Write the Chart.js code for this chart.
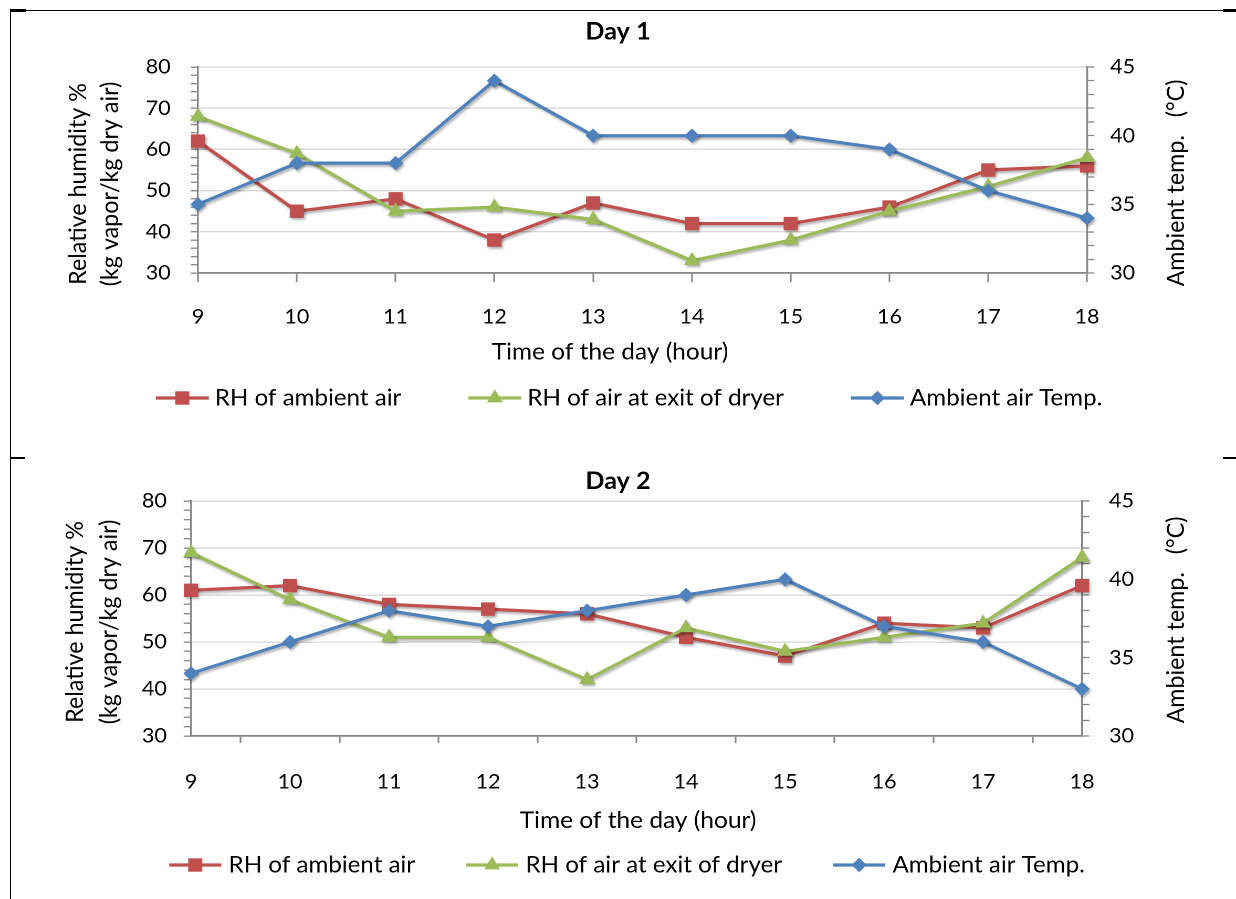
<!DOCTYPE html>
<html><head><meta charset="utf-8">
<script src="https://cdn.jsdelivr.net/npm/chart.js@4.4.1/dist/chart.umd.min.js"></script>
<style>
html,body{margin:0;padding:0;background:#fff;width:1236px;height:899px;overflow:hidden;position:relative;}
canvas{position:absolute;left:0;}
.fr{position:absolute;background:#000;}
</style></head><body>
<canvas id="c1" width="1177" height="458" style="top:0px;width:1236px;height:458px;"></canvas>
<canvas id="c2" width="1177" height="441" style="top:458px;width:1236px;height:441px;"></canvas>
<div class="fr" style="left:9.5px;top:9.5px;width:1226.5px;height:1.5px;"></div>
<div class="fr" style="left:9.5px;top:9px;width:16px;height:3px;"></div>
<div class="fr" style="left:1223px;top:9px;width:13px;height:3px;"></div>
<div class="fr" style="left:9.5px;top:9.5px;width:1.5px;height:890px;"></div>
<div class="fr" style="left:9.5px;top:457px;width:15px;height:2px;"></div>
<div class="fr" style="left:1223px;top:457px;width:13px;height:2px;"></div>
<script>
// ---------- data ----------
const hours = ['9','10','11','12','13','14','15','16','17','18'];
const seriesNames = ['RH of ambient air', 'RH of air at exit of dryer', 'Ambient air Temp.'];
const day1RhAmbient = [62, 45, 48, 38, 47, 42, 42, 46, 55, 56];
const day1RhExit    = [68, 59, 45, 46, 43, 33, 38, 45, 51, 58];
const day1Temp      = [35, 38, 38, 44, 40, 40, 40, 39, 36, 34];
const day2RhAmbient = [61, 62, 58, 57, 56, 51, 47, 54, 53, 62];
const day2RhExit    = [69, 59, 51, 51, 42, 53, 48, 51, 54, 68];
const day2Temp      = [34, 36, 38, 37, 38, 39, 40, 37, 36, 33];
const rhTickLabels   = [30, 40, 50, 60, 70, 80];
const tempTickLabels = [30, 35, 40, 45];
const xTitle = 'Time of the day (hour)';
const yTitle = ['Relative humidity %', '(kg vapor/kg dry air)'];
const y1Title = 'Ambient temp.   (\u00B0C)';

// ---------- styles ----------
const AXIS = '#868686', GRID = '#d9d9d9';
const COLORS = ['#C0504D', '#9BBB59', '#4F81BD'];
const STYLES = ['rect', 'triangle', 'rectRot'];
const RADII = [9.5, 8.8, 7.2];
const TICK_SIZE = 20.5, TEXT_SIZE = 23.3, LEGEND_SIZE = 23;
Chart.defaults.font.family = 'Lato, "Open Sans", sans-serif';
Chart.defaults.color = '#000';

function drawMarker(ctx, style, x, y, r) {
  ctx.beginPath();
  if (style === 'rect') {
    const s = Math.SQRT1_2 * r;
    ctx.rect(x - s, y - s, 2 * s, 2 * s);
  } else if (style === 'triangle') {
    ctx.moveTo(x, y - r);
    ctx.lineTo(x + r * Math.sqrt(3) / 2, y + r / 2);
    ctx.lineTo(x - r * Math.sqrt(3) / 2, y + r / 2);
    ctx.closePath();
  } else {
    ctx.moveTo(x - r, y); ctx.lineTo(x, y - r); ctx.lineTo(x + r, y); ctx.lineTo(x, y + r);
    ctx.closePath();
  }
  ctx.fill();
}

const shadowPlugin = {
  id: 'shadow',
  beforeDatasetsDraw(chart) {
    const c = chart.ctx; c.save();
    c.shadowColor = 'rgba(0,0,0,0.33)'; c.shadowBlur = 5; c.shadowOffsetX = 3; c.shadowOffsetY = 4;
  },
  afterDatasetsDraw(chart) { chart.ctx.restore(); }
};

const textPlugin = {
  id: 'extraText',
  afterDraw(chart, args, o) {
    const ctx = chart.ctx, ca = chart.chartArea;
    const cy = (ca.top + ca.bottom) / 2;
    ctx.save();
    ctx.fillStyle = '#000';
    ctx.textAlign = 'center'; ctx.textBaseline = 'middle';
    ctx.font = TEXT_SIZE + 'px Lato';
    ctx.fillText(xTitle, o.xTitleX, o.xTitleY);
    yTitle.forEach((t, i) => {
      ctx.save(); ctx.translate(o.yTitleX[i], cy + o.yTitleDy); ctx.rotate(-Math.PI / 2);
      ctx.fillText(t, 0, 0); ctx.restore();
    });
    ctx.save(); ctx.translate(o.y1TitleX, cy + o.y1TitleDy); ctx.rotate(-Math.PI / 2);
    ctx.fillText(y1Title, 0, 0); ctx.restore();
    // legend
    ctx.font = LEGEND_SIZE + 'px Lato';
    ctx.textAlign = 'left';
    const ds = chart.data.datasets;
    const widths = ds.map(d => ctx.measureText(d.label).width);
    let total = 0;
    widths.forEach(w => total += o.symW + o.symGap + w);
    total += o.legendGap * (ds.length - 1);
    let x = o.legendCx - total / 2;
    const y = o.legendY;
    ds.forEach((d, i) => {
      ctx.strokeStyle = d.borderColor; ctx.lineWidth = 3.2;
      ctx.beginPath(); ctx.moveTo(x, y); ctx.lineTo(x + o.symW, y); ctx.stroke();
      ctx.fillStyle = d.backgroundColor;
      drawMarker(ctx, d.pointStyle, x + o.symW / 2, y, d.pointRadius);
      ctx.fillStyle = '#000';
      ctx.fillText(d.label, x + o.symW + o.symGap, y);
      x += o.symW + o.symGap + widths[i] + o.legendGap;
    });
    ctx.restore();
  }
};

function makeChart(id, title, rhA, rhE, temp, L) {
  const datasets = [rhA, rhE, temp].map((vals, i) => ({
    label: seriesNames[i],
    data: vals,
    yAxisID: i === 2 ? 'y1' : 'y',
    borderColor: COLORS[i], backgroundColor: COLORS[i],
    pointBackgroundColor: COLORS[i], pointBorderColor: COLORS[i], pointBorderWidth: 0,
    pointStyle: STYLES[i], pointRadius: RADII[i], pointHoverRadius: RADII[i],
    borderWidth: 3.2, tension: 0, clip: false, order: 3 - i
  }));
  return new Chart(document.getElementById(id), {
    type: 'line',
    data: { labels: hours, datasets },
    plugins: [shadowPlugin, textPlugin],
    options: {
      responsive: false, animation: false, devicePixelRatio: 2,
      layout: { padding: { top: 0, left: 0, right: 0, bottom: L.padBottom } },
      plugins: {
        legend: { display: false }, tooltip: { enabled: false },
        title: { display: true, text: title, font: { size: 24, weight: 'bold' }, color: '#000',
                 padding: L.titlePad },
        extraText: L.text
      },
      scales: {
        x: {
          type: 'category', offset: false,
          grid: { display: true, drawOnChartArea: false, drawTicks: true, tickLength: L.xTick,
                  tickColor: AXIS, tickWidth: 1.6, offset: L.xGridOffset },
          border: { display: true, color: AXIS, width: 1.75 },
          ticks: { color: '#000', font: { size: TICK_SIZE }, padding: L.xPad, maxRotation: 0, autoSkip: false },
          afterFit: s => { s.height = L.xH; }
        },
        y: {
          position: 'left', min: 30, max: 80,
          ticks: { stepSize: 2, autoSkip: false, color: '#000', font: { size: TICK_SIZE }, padding: L.yPad,
                   callback: v => rhTickLabels.includes(v) ? String(v) : '' },
          grid: { color: c => (c.tick && rhTickLabels.includes(c.tick.value) && c.tick.value > 30) ? GRID : 'rgba(0,0,0,0)',
                  lineWidth: 1.4, tickColor: AXIS, tickLength: 7, tickWidth: 1.3 },
          border: { display: true, color: AXIS, width: 1.7 },
          afterFit: s => { s.width = L.leftW; }
        },
        y1: {
          position: 'right', min: 30, max: 45,
          ticks: { stepSize: 1, autoSkip: false, color: '#000', font: { size: TICK_SIZE }, padding: L.y1Pad,
                   callback: v => tempTickLabels.includes(v) ? String(v) : '' },
          grid: { drawOnChartArea: false, tickColor: AXIS, tickLength: 7, tickWidth: 1.3 },
          border: { display: true, color: AXIS, width: 1.7 },
          afterFit: s => { s.width = L.rightW; }
        }
      }
    }
  });
}

makeChart('c1', 'Day 1', day1RhAmbient, day1RhExit, day1Temp, {
  padBottom: 85, titlePad: { top: 17.6, bottom: 20.6 },
  xTick: 9, xPad: 22.7, xGridOffset: false, xH: 100,
  leftW: 188.55, rightW: 141.9, yPad: 19, y1Pad: 15,
  text: { xTitleX: 580.9, xTitleY: 352,
          yTitleX: [74.3, 104.8], yTitleDy: 14, y1TitleX: 1119.9, y1TitleDy: 13,
          legendY: 398, legendCx: 599, legendGap: 63.8, symW: 50.5, symGap: 5.7 }
});
makeChart('c2', 'Day 2', day2RhAmbient, day2RhExit, day2Temp, {
  padBottom: 63, titlePad: { top: 9.1, bottom: 5.1 },
  xTick: 7, xPad: 26.4, xGridOffset: true, xH: 100,
  leftW: 181.9, rightW: 146.6, yPad: 16, y1Pad: 18.7,
  text: { xTitleX: 607.6, xTitleY: 362.7,
          yTitleX: [71.4, 103.8], yTitleDy: 3.5, y1TitleX: 1119.9, y1TitleDy: 1.5,
          legendY: 407, legendCx: 597.1, legendGap: 48.6, symW: 49.5, symGap: 7 }
});
</script>
</body></html>
